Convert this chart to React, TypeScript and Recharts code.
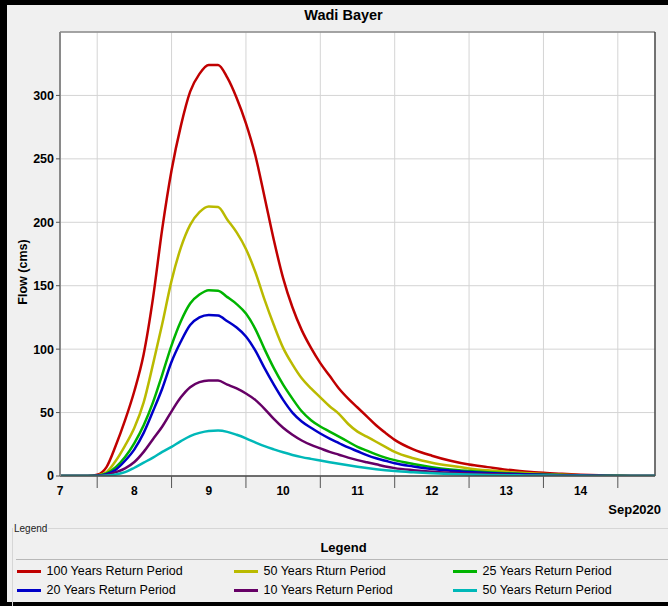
import React from "react";
import { CartesianGrid, Label, Line, LineChart, ReferenceLine, XAxis, YAxis } from "recharts";

// time in days of Sep 2020 (8 = Sep 8 00:00)
const days = [
  7.5, 7.75, 7.875, 8, 8.125, 8.25, 8.375, 8.5, 8.625, 8.75, 8.875, 9, 9.125, 9.25, 9.375, 9.5, 9.625,
  9.75, 9.875, 10, 10.125, 10.25, 10.375, 10.5, 10.625, 10.75, 10.875, 11, 11.125, 11.25, 11.375, 11.5,
  11.625, 11.75, 11.875, 12, 12.25, 12.5, 12.75, 13, 13.25, 13.5, 13.75, 14, 14.25, 14.5, 14.75, 15,
  15.25, 15.5,
];

const flow100 = [
  0, 0, 0, 1, 7, 24, 44, 67, 96, 140, 195, 241, 276, 303, 317, 324, 324, 314, 298, 278, 253, 220, 186,
  156, 133, 115, 101, 89, 79, 69, 61, 54, 47, 40, 34, 28.5, 21, 16, 12, 9, 7, 5, 3.6, 2.5, 1.7, 1, 0.5,
  0.2, 0, 0,
];
const flow50r = [
  0, 0, 0, 0.5, 3, 12, 24, 38, 58, 88, 120, 154, 180, 198, 208, 212.5, 212, 202, 192, 179, 161, 139, 119,
  101, 88, 77, 69, 62, 55, 49, 41, 35, 31, 27, 23, 19, 14, 10.5, 8, 6, 4.5, 3.3, 2.4, 1.6, 1, 0.6, 0.3,
  0.1, 0, 0,
];
const flow25 = [
  0, 0, 0, 0.3, 2, 7, 15, 26, 40, 58, 80, 103, 122, 136, 143, 146.5, 146, 141, 135.5, 128, 116, 100, 85,
  72, 61, 51, 44, 39, 35, 31, 27, 23, 20, 17, 14.5, 12.5, 9.5, 7, 5.2, 4, 3, 2.2, 1.6, 1.1, 0.7, 0.4,
  0.2, 0.1, 0, 0,
];
const flow20 = [
  0, 0, 0, 0.2, 1.5, 5, 12, 21, 34, 51, 69, 90, 106, 119, 125, 127, 126.5, 122, 117, 110, 99, 85, 72, 60,
  50, 43, 38, 33.5, 29.5, 26, 22.5, 19.5, 16.5, 14, 12, 10, 7.5, 5.5, 4.2, 3.2, 2.4, 1.8, 1.3, 0.9, 0.6,
  0.3, 0.15, 0.05, 0, 0,
];
const flow10 = [
  0, 0, 0, 0.1, 0.8, 3, 6, 11, 19, 29, 39, 51, 62, 70, 74, 75.3, 75.2, 72, 69, 65, 60, 53, 45, 38, 32.5,
  28, 24.5, 21.8, 19, 16.8, 14.5, 12.5, 10.8, 9.2, 7.5, 6.2, 4.6, 3.4, 2.6, 2, 1.5, 1.1, 0.8, 0.55, 0.35,
  0.2, 0.1, 0, 0, 0,
];
const flow50 = [
  0, 0, 0, 0.05, 0.3, 1.2, 3, 6.5, 10.5, 14.5, 19, 23, 27.5, 31.5, 34, 35.5, 35.8, 34.8, 32.5, 29.7,
  26.5, 23.5, 21, 18.7, 16.6, 14.9, 13.5, 12.2, 10.9, 9.6, 8.4, 7.3, 6.3, 5.4, 4.6, 3.9, 2.9, 2.1, 1.5,
  1.1, 0.8, 0.6, 0.45, 0.3, 0.2, 0.1, 0.05, 0, 0, 0,
];

const seriesNames = [
  "100 Years Return Period",
  "50 Years Rturn Period",
  "25 Years Return Period",
  "20 Years Return Period",
  "10 Years Return Period",
  "50 Years Return Period",
];
const seriesColors = ["#c00000", "#baba00", "#00b400", "#0000c8", "#660066", "#00b8b8"];
const seriesValues = [flow100, flow50r, flow25, flow20, flow10, flow50];

const flowTicks = [0, 50, 100, 150, 200, 250, 300];
const dayLines = [8, 9, 10, 11, 12, 13, 14, 15];
const dayLabels = [7.5, 8.5, 9.5, 10.5, 11.5, 12.5, 13.5, 14.5];

const rows = days.map((d, i) => {
  const row: Record<string, number> = { day: d };
  seriesValues.forEach((vals, k) => (row["s" + k] = vals[i]));
  return row;
});

const FONT = "'Liberation Sans', Arial, sans-serif";

function FlowLabel(props: any) {
  const { x, y, height } = props.viewBox;
  const cx = x + 15.5;
  const cy = y + height / 2 + 18;
  return (
    <text
      x={cx}
      y={cy}
      transform={`rotate(-90, ${cx}, ${cy})`}
      textAnchor="middle"
      dominantBaseline="central"
      fontSize={12.5}
      fontWeight="bold"
      fill="#000"
    >
      Flow (cms)
    </text>
  );
}

export default function App() {
  const colX = [17, 234, 453];
  const rowY = [571, 590];
  return (
    <div
      style={{
        position: "relative",
        width: 668,
        height: 606,
        background: "#f0f0f0",
        overflow: "hidden",
        fontFamily: FONT,
      }}
    >
      <style>{`body{margin:0}`}</style>
      <div style={{ position: "absolute", left: 0, top: 0, width: 668, height: 5, background: "#000" }} />
      <div style={{ position: "absolute", left: 0, top: 0, width: 7, height: 606, background: "#000" }} />
      <div style={{ position: "absolute", left: 0, top: 602, width: 668, height: 4, background: "#000" }} />

      <div
        style={{
          position: "absolute",
          left: 343.5,
          top: 8.4,
          transform: "translateX(-50%)",
          fontSize: 14.5,
          lineHeight: "14.5px",
          fontWeight: "bold",
          whiteSpace: "nowrap",
        }}
      >
        Wadi Bayer
      </div>

      <div style={{ position: "absolute", left: 7, top: 5 }}>
        <LineChart
          width={661}
          height={520}
          data={rows}
          margin={{ top: 27, right: 13, left: 0, bottom: 0 }}
          style={{ fontFamily: FONT }}
        >
          <CartesianGrid xAxisId="day" stroke="#d4d4d4" fill="#ffffff" />
          <XAxis
            xAxisId="day"
            dataKey="day"
            type="number"
            domain={[7.5, 15.5]}
            ticks={dayLines}
            interval={0}
            height={1}
            tickSize={12}
            tick={() => <g />}
            axisLine={{ stroke: "#444", strokeWidth: 1.3 }}
            tickLine={{ stroke: "#555" }}
            allowDataOverflow
          />
          <XAxis
            xAxisId="label"
            dataKey="day"
            type="number"
            domain={[7.5, 15.5]}
            ticks={dayLabels}
            interval={0}
            height={48}
            axisLine={false}
            tickLine={false}
            tickSize={0}
            tickMargin={9}
            tickFormatter={(v: number) => String(Math.floor(v))}
            tick={{ fill: "#000", fontSize: 12, fontWeight: "bold" }}
            allowDataOverflow
          />
          <YAxis
            domain={[0, 350]}
            ticks={flowTicks}
            interval={0}
            width={53}
            tickSize={4}
            tickMargin={2}
            axisLine={{ stroke: "#8a8a8a", strokeWidth: 2 }}
            tickLine={{ stroke: "#555" }}
            tick={{ fill: "#000", fontSize: 12.5, fontWeight: "bold" }}
            allowDataOverflow
          >
            <Label content={FlowLabel} />
          </YAxis>
          <ReferenceLine xAxisId="day" y={350} stroke="#8c8c8c" strokeWidth={1.5} />
          <ReferenceLine xAxisId="day" x={15.5} stroke="#333" strokeWidth={1.3} />
          {seriesNames.map((name, k) => (
            <Line
              key={name}
              xAxisId="day"
              type="monotone"
              dataKey={"s" + k}
              name={name}
              stroke={seriesColors[k]}
              strokeWidth={2.5}
              dot={false}
              activeDot={false}
              isAnimationActive={false}
            />
          ))}
        </LineChart>
      </div>

      <div
        style={{
          position: "absolute",
          left: 608.3,
          top: 503,
          fontSize: 13,
          lineHeight: "13px",
          fontWeight: "bold",
          whiteSpace: "nowrap",
        }}
      >
        Sep2020
      </div>

      {/* legend panel */}
      <div
        style={{
          position: "absolute",
          left: 12,
          top: 528,
          width: 700,
          height: 80,
          borderTop: "1px solid #d6d6d6",
          borderLeft: "1px solid #d6d6d6",
        }}
      />
      <div
        style={{
          position: "absolute",
          left: 13,
          top: 523.5,
          fontSize: 10,
          lineHeight: "10px",
          background: "#f0f0f0",
          color: "#222",
          padding: "0 1px",
        }}
      >
        Legend
      </div>
      <div
        style={{
          position: "absolute",
          left: 343.5,
          top: 540.7,
          transform: "translateX(-50%)",
          fontSize: 13,
          lineHeight: "13px",
          fontWeight: "bold",
        }}
      >
        Legend
      </div>
      <div style={{ position: "absolute", left: 16, top: 559, width: 660, borderTop: "1px solid #b8b8b8" }} />
      {seriesNames.map((name, k) => (
        <div
          key={name}
          style={{
            position: "absolute",
            left: colX[k % 3],
            top: rowY[Math.floor(k / 3)] - 8,
            height: 16,
            display: "flex",
            alignItems: "center",
            whiteSpace: "nowrap",
            fontSize: 12.5,
            lineHeight: "12.5px",
          }}
        >
          <span style={{ display: "inline-block", width: 24, height: 3, background: seriesColors[k], marginRight: 5.5 }} />
          <span>{name}</span>
        </div>
      ))}
    </div>
  );
}
